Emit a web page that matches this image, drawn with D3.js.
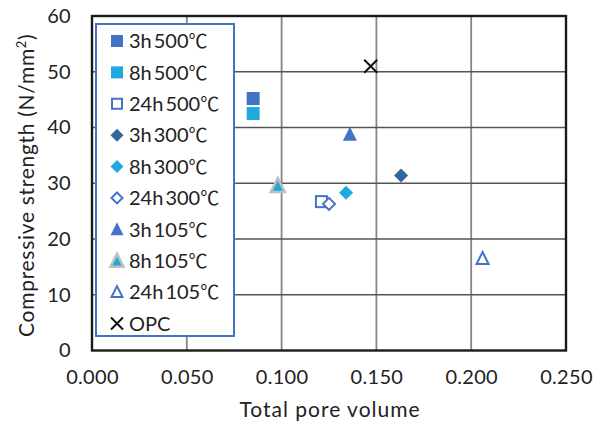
<!DOCTYPE html>
<html>
<head>
<meta charset="utf-8">
<script src="https://cdn.jsdelivr.net/npm/d3@7"></script>
<style>
  html, body { margin: 0; padding: 0; background: #fff; }
  svg { display: block; }
  text { font-family: Lato, "Noto Sans CJK JP", sans-serif; fill: #222; }
</style>
</head>
<body>
<script>
// Series labels, in legend order
const seriesNames = ["3h500℃", "8h500℃", "24h500℃", "3h300℃", "8h300℃", "24h300℃", "3h105℃", "8h105℃", "24h105℃", "OPC"];
// Total pore volume per series
const poreVolume = [0.085, 0.085, 0.121, 0.163, 0.134, 0.125, 0.136, 0.098, 0.206, 0.147];
// Compressive strength per series (N/mm²)
const strength = [45.2, 42.5, 26.7, 31.4, 28.3, 26.3, 38.8, 29.6, 16.5, 51.0];
// Axis ticks
const xTicks = [0, 0.05, 0.10, 0.15, 0.20, 0.25];
const yTicks = [0, 10, 20, 30, 40, 50, 60];

// Marker look per series
const markerStyle = [
  { shape: "square",   fill: "#4472C4", stroke: "none" },
  { shape: "square",   fill: "#1FA9E1", stroke: "none" },
  { shape: "square",   fill: "#fff",    stroke: "#4472C4", open: true },
  { shape: "diamond",  fill: "#336699", stroke: "none" },
  { shape: "diamond",  fill: "#1FA9E1", stroke: "none" },
  { shape: "diamond",  fill: "#fff",    stroke: "#4472C4", open: true },
  { shape: "triangle", fill: "#4472C4", stroke: "none" },
  { shape: "triangle", fill: "#1FA9E1", stroke: "#BFBFBF", grey: true },
  { shape: "triangle", fill: "#fff",    stroke: "#4472C4", open: true },
  { shape: "cross",    fill: "none",    stroke: "#111" }
];

const W = 603, H = 424;
const plot = { left: 92, right: 566, top: 16, bottom: 350.5 };

const svg = d3.select("body").append("svg").attr("width", W).attr("height", H);

const x = d3.scaleLinear().domain([0, 0.25]).range([plot.left, plot.right]);
const y = d3.scaleLinear().domain([0, 60]).range([plot.bottom, plot.top]);

// Gridlines
svg.append("g").selectAll("line").data(xTicks.slice(1, -1)).join("line")
  .attr("x1", d => x(d)).attr("x2", d => x(d))
  .attr("y1", plot.top).attr("y2", plot.bottom)
  .attr("stroke", "#858585").attr("stroke-width", 1.8);
svg.append("g").selectAll("line").data(yTicks.slice(1, -1)).join("line")
  .attr("x1", plot.left).attr("x2", plot.right)
  .attr("y1", d => y(d)).attr("y2", d => y(d))
  .attr("stroke", "#555").attr("stroke-width", 1.6);

// Plot frame
svg.append("rect")
  .attr("x", plot.left).attr("y", plot.top)
  .attr("width", plot.right - plot.left).attr("height", plot.bottom - plot.top)
  .attr("fill", "none").attr("stroke", "#1a1a1a").attr("stroke-width", 2.4);

// Axes (labels only; frame drawn above)
const xAxis = svg.append("g").attr("transform", `translate(0,${plot.bottom})`)
  .call(d3.axisBottom(x).tickValues(xTicks).tickFormat(d3.format(".3f")).tickSize(0).tickPadding(19));
const yAxis = svg.append("g").attr("transform", `translate(${plot.left},0)`)
  .call(d3.axisLeft(y).tickValues(yTicks).tickSize(0).tickPadding(21));
[xAxis, yAxis].forEach(a => {
  a.select(".domain").remove();
  a.selectAll("text").style("font-family", "Lato, sans-serif").style("font-size", "20px")
    .style("letter-spacing", "0.3px").attr("fill", "#222");
});

// Axis titles
svg.append("text")
  .attr("x", (plot.left + plot.right) / 2 + 1).attr("y", 417)
  .attr("text-anchor", "middle").style("font-size", "21px").style("letter-spacing", "1px")
  .text("Total pore volume");

const yTitle = svg.append("text")
  .attr("transform", `translate(34,${(plot.top + plot.bottom) / 2 + 2}) rotate(-90)`)
  .attr("text-anchor", "middle").style("font-size", "21px").style("letter-spacing", "0.7px");
yTitle.append("tspan").text("Compressive strength  (N/mm");
yTitle.append("tspan").attr("dy", -8).style("font-size", "13px").text("2");
yTitle.append("tspan").attr("dy", 8).text(")");

// Marker drawing
function drawMarker(g, st, s) {
  const h = s / 2;
  if (st.shape === "square") {
    g.append("rect").attr("x", -h).attr("y", -h).attr("width", s).attr("height", s)
      .attr("fill", st.fill).attr("stroke", st.open ? st.stroke : "none")
      .attr("stroke-width", st.open ? 2 : 0);
    if (st.open) g.select("rect").attr("x", -h + 1).attr("y", -h + 1).attr("width", s - 2).attr("height", s - 2);
  } else if (st.shape === "diamond") {
    const r = st.open ? h - 0.5 : h + 0.5;
    g.append("path").attr("d", `M0,${-r}L${r},0L0,${r}L${-r},0Z`)
      .attr("fill", st.fill).attr("stroke", st.open ? st.stroke : "none").attr("stroke-width", 2);
  } else if (st.shape === "triangle") {
    const tw = s + 1, th = s;
    const inset = st.open ? 1 : 0;
    g.append("path")
      .attr("d", `M0,${-th / 2 - 1 + inset}L${tw / 2 - inset},${th / 2 - inset}L${-tw / 2 + inset},${th / 2 - inset}Z`)
      .attr("fill", st.fill)
      .attr("stroke", st.stroke === "none" ? "none" : st.stroke)
      .attr("stroke-width", st.grey ? 2.5 : 2)
      .attr("stroke-linejoin", "miter");
  } else if (st.shape === "cross") {
    g.append("path").attr("d", `M${-h},${-h}L${h},${h}M${h},${-h}L${-h},${h}`)
      .attr("stroke", st.stroke).attr("stroke-width", 2).attr("fill", "none");
  }
}

// Data points
const pts = svg.append("g");
seriesNames.forEach((name, i) => {
  const g = pts.append("g").attr("transform", `translate(${x(poreVolume[i])},${y(strength[i])})`);
  drawMarker(g, markerStyle[i], 13);
});

// Legend
const lg = { left: 96, top: 24, width: 138, height: 312 };
svg.append("rect")
  .attr("x", lg.left).attr("y", lg.top).attr("width", lg.width).attr("height", lg.height)
  .attr("fill", "#fff").attr("stroke", "#4472C4").attr("stroke-width", 2);

const rowY = d3.scaleLinear().domain([0, seriesNames.length - 1]).range([41, 323.5]);
seriesNames.forEach((name, i) => {
  const g = svg.append("g").attr("transform", `translate(117,${rowY(i)})`);
  drawMarker(g, markerStyle[i], 12);
  const t = svg.append("text")
    .attr("x", 129).attr("y", rowY(i)).attr("dy", "0.36em")
    .style("font-size", "20px");
  // the degree-Celsius sign is set in the CJK face
  const m = name.match(/^(\d+h)(\d+)(℃)$/);
  if (m) {
    t.append("tspan").text(m[1]);
    t.append("tspan").attr("dx", 2).text(m[2]);
    t.append("tspan").style("font-family", "'Noto Sans CJK JP'").style("font-size", "19px").text(m[3]);
  } else {
    t.text(name);
  }
});
</script>
</body>
</html>
